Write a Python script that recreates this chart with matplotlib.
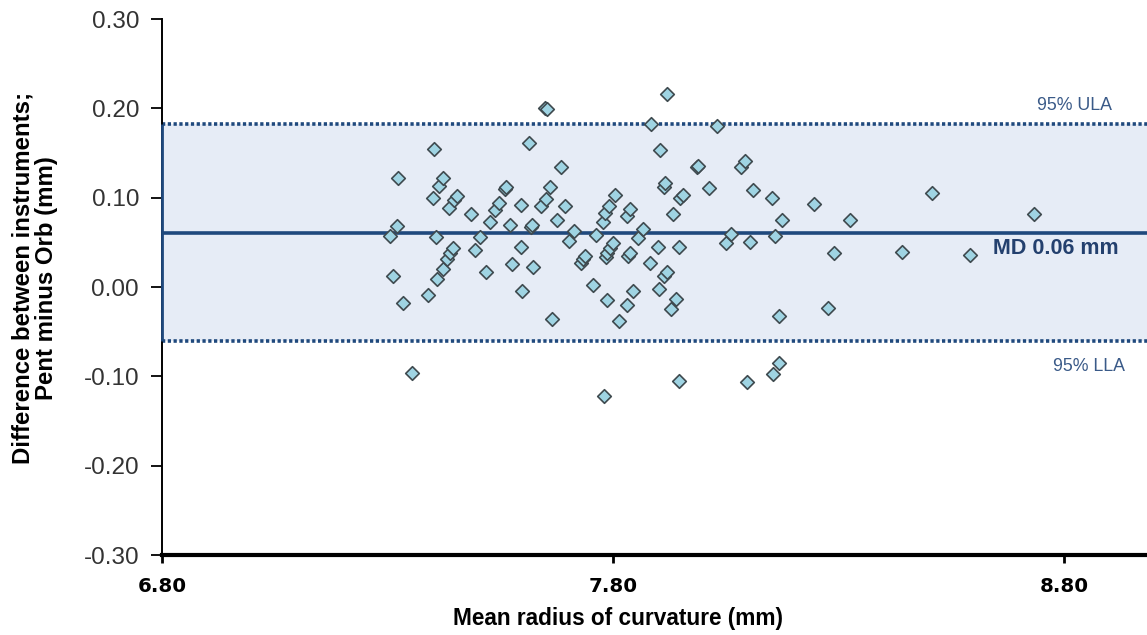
import matplotlib
matplotlib.use("Agg")
import matplotlib.pyplot as plt

# Bland-Altman agreement data: mean corneal radius vs. Pentacam minus Orbscan
mean_radius = [
    7.306, 7.313, 7.320, 7.324, 7.334, 7.355, 7.390, 7.401, 7.404, 7.408,
    7.410, 7.414, 7.422, 7.422, 7.433, 7.437, 7.439, 7.446, 7.448, 7.453,
    7.485, 7.494, 7.505, 7.518, 7.527, 7.538, 7.547, 7.560, 7.563, 7.572,
    7.577, 7.595, 7.595, 7.598, 7.613, 7.619, 7.620, 7.622, 7.640, 7.650,
    7.652, 7.654, 7.661, 7.664, 7.676, 7.685, 7.693, 7.703, 7.714, 7.729,
    7.733, 7.737, 7.755, 7.762, 7.777, 7.780, 7.783, 7.784, 7.786, 7.787,
    7.791, 7.793, 7.801, 7.804, 7.813, 7.832, 7.832, 7.833, 7.838, 7.838,
    7.845, 7.856, 7.867, 7.881, 7.884, 7.899, 7.901, 7.904, 7.912, 7.912,
    7.915, 7.919, 7.919, 7.929, 7.933, 7.940, 7.946, 7.946, 7.949, 7.955,
    7.986, 7.988, 8.013, 8.030, 8.051, 8.062, 8.084, 8.093, 8.096, 8.104,
    8.110, 8.152, 8.155, 8.159, 8.167, 8.169, 8.175, 8.246, 8.277, 8.291,
    8.326, 8.441, 8.507, 8.591, 8.734,
]
difference = [
    0.0574, 0.0120, 0.0680, 0.1224, -0.0182, -0.0959, -0.0093, 0.0996, 0.1541, 0.0556,
    0.0084, 0.1131, 0.1224, 0.0205, 0.0313, 0.0888, 0.0377, 0.0433, 0.0974, 0.1015,
    0.0817, 0.0411, 0.0556, 0.0168, 0.0728, 0.0865, 0.0944, 0.1094, 0.1116, 0.0697,
    0.0257, 0.0921, 0.0451, -0.0045, 0.1615, 0.0668, 0.0697, 0.0221, 0.0903, 0.2009,
    0.0982, 0.1998, 0.1119, -0.0362, 0.0750, 0.1343, 0.0907, 0.0515, 0.0630, 0.0265,
    0.0310, 0.0350, 0.0026, 0.0585, 0.0724, -0.1224, 0.0832, 0.0341, -0.0149, 0.0381,
    0.0907, 0.0433, 0.0487, 0.1030, -0.0377, 0.0795, -0.0198, 0.0347, 0.0877, 0.0384,
    -0.0045, 0.0549, 0.0649, 0.0269, 0.1821, 0.0451, -0.0026, 0.1537, 0.1116, 0.0118,
    0.1161, 0.2157, 0.0168, -0.0243, 0.0817, -0.0131, -0.1049, 0.0451, 0.0996, 0.1030,
    0.1340, 0.1355, 0.1105, 0.1802, 0.0496, 0.0593, 0.1340, 0.1407, -0.1067, 0.0500,
    0.1086, 0.0996, -0.0977, 0.0574, -0.0854, -0.0325, 0.0750, 0.0926, -0.0238, 0.0377,
    0.0750, 0.0395, 0.1049, 0.0362, 0.0817,
]

mean_diff = 0.0605
upper_loa = 0.1825
lower_loa = -0.0605

x_ticks = [6.80, 7.80, 8.80]
x_tick_labels = ["6.80", "7.80", "8.80"]
y_ticks = [-0.30, -0.20, -0.10, 0.00, 0.10, 0.20, 0.30]
y_tick_labels = ["-0.30", "-0.20", "-0.10", "0.00", "0.10", "0.20", "0.30"]
x_range = (6.80, 8.984)

navy = "#1F497D"
band_fill = "#E6ECF6"
marker_face = "#9FD4E3"
marker_edge = "#3F4A4F"

W, H = 1147, 635
fig = plt.figure(figsize=(W / 100, H / 100), dpi=100)
ax = fig.add_axes([162 / W, 80 / H, (W - 162) / W, (555 - 19) / H])

ax.set_xlim(*x_range)
ax.set_ylim(y_ticks[0], y_ticks[-1])

# limits-of-agreement band
ax.axhspan(lower_loa, upper_loa, facecolor=band_fill, edgecolor="none", zorder=0)
ax.axhline(upper_loa, color=navy, lw=2.6, ls=(0, (0.9, 0.7)), zorder=1)
ax.axhline(lower_loa, color=navy, lw=2.6, ls=(0, (0.9, 0.7)), zorder=1)
ax.vlines(x_range[0], lower_loa, upper_loa, color=navy, lw=2.0, zorder=3,
          clip_on=False)
ax.axhline(mean_diff, color=navy, lw=2.6, zorder=2)

ax.scatter(mean_radius, difference, marker="D", s=48, facecolor=marker_face,
           edgecolor=marker_edge, linewidth=1.2, zorder=4)

# annotations
ax.text(8.824, upper_loa + 0.021, "95% ULA", ha="center", va="center",
        fontsize=12.8, color="#3A5A88", family="Liberation Sans")
ax.text(8.855, lower_loa - 0.028, "95% LLA", ha="center", va="center",
        fontsize=12.8, color="#3A5A88", family="Liberation Sans")
ax.text(8.781, mean_diff - 0.017, "MD 0.06 mm", ha="center", va="center",
        fontsize=15.5, fontweight="bold", color="#23406E",
        family="Liberation Sans")

# axes styling
for side in ("top", "right"):
    ax.spines[side].set_visible(False)
ax.spines["left"].set_linewidth(1.4)
ax.spines["bottom"].set_linewidth(3.0)
ax.spines["left"].set_color("black")
ax.spines["bottom"].set_color("black")

ax.set_yticks(y_ticks)
ax.set_yticklabels(y_tick_labels, fontsize=17.5, color="#333333",
                   family="Liberation Sans")
ax.set_xticks(x_ticks)
ax.set_xticklabels(x_tick_labels, fontsize=14.3, fontweight="bold",
                   color="black", family="DejaVu Sans")
ax.tick_params(axis="y", direction="out", length=8, width=1.3, pad=8.5)
ax.tick_params(axis="x", direction="out", length=6, width=2.0, pad=10)

# axis titles
fig.text(618 / W, 1 - 618 / H, "Mean radius of curvature (mm)",
         ha="center", va="center", fontsize=16.3, fontweight="bold",
         family="Liberation Sans")
fig.text(35 / W, 1 - 278 / H,
         "Difference between instruments;\nPent minus Orb (mm)",
         rotation=90, ha="center", va="center", fontsize=17.3,
         fontweight="bold", family="Liberation Sans", linespacing=1.05)

fig.savefig("out.png", dpi=100)
